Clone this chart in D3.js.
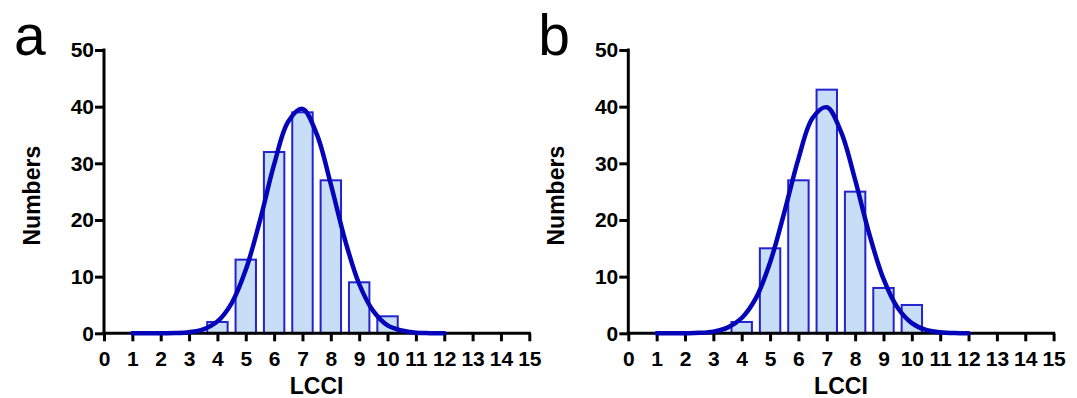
<!DOCTYPE html>
<html>
<head>
<meta charset="utf-8">
<script src="https://cdn.jsdelivr.net/npm/d3@7"></script>
<style>
  html, body { margin: 0; padding: 0; background: #fff; }
  svg { display: block; font-family: Arial, "Liberation Sans", sans-serif; }
</style>
</head>
<body>
<svg id="chart" width="1077" height="398"></svg>
<script>
// LCCI bins (bar centres) and counts
const bins = [1, 2, 3, 4, 5, 6, 7, 8, 9, 10, 11, 12];
const countsA = [0, 0, 0, 2, 13, 32, 39, 27, 9, 3, 0, 0];
const countsB = [0, 0, 0, 2, 15, 27, 43, 25, 8, 5, 0, 0];

// fitted curve at half steps
const curveX = [1, 1.5, 2, 2.5, 3, 3.5, 4, 4.5, 5, 5.5, 6, 6.5, 7, 7.5, 8, 8.5, 9, 9.5, 10, 10.5, 11, 11.5, 12];
const curveA = [0, 0, 0.01, 0.05, 0.2, 0.7, 2.1, 5.3, 11.2, 19.9, 29.8, 37.4, 39.6, 35.2, 26.3, 16.5, 8.7, 3.9, 1.4, 0.5, 0.1, 0.03, 0];
const curveB = [0, 0, 0.02, 0.08, 0.3, 1.0, 2.7, 6.2, 12.5, 21.3, 30.8, 38.0, 39.9, 35.6, 27.1, 17.5, 9.6, 4.5, 1.8, 0.6, 0.2, 0.04, 0];

const xTicks = d3.range(0, 16);
const yTicks = [0, 10, 20, 30, 40, 50];

const svg = d3.select('#chart');
const barFill = '#c8ddf6';
const barStroke = '#2323cf';
const lineColor = '#0404b8';
const halfBar = 0.36;
const fontFamily = 'Arial, "Liberation Sans", sans-serif';

const panels = [
    { letter: 'a', left: 104, counts: countsA, curve: curveA },
    { letter: 'b', left: 628.3, counts: countsB, curve: curveB }
];

panels.forEach(p => {
    const g = svg.append('g');
    const x = d3.scaleLinear().domain([0, 15]).range([p.left, p.left + 425.3]);
    const y = d3.scaleLinear().domain([0, 50]).range([333.3, 50]);

    // bars
    g.selectAll('.bar')
        .data(bins.map((b, i) => ({ b: b, v: p.counts[i] })).filter(d => d.v > 0))
        .join('rect')
        .attr('class', 'bar')
        .attr('x', d => x(d.b - halfBar))
        .attr('width', d => x(d.b + halfBar) - x(d.b - halfBar))
        .attr('y', d => y(d.v))
        .attr('height', d => y(0) - y(d.v))
        .attr('fill', barFill)
        .attr('stroke', barStroke)
        .attr('stroke-width', 2);

    // axes
    const xAxis = g.append('g')
        .attr('transform', `translate(0,${y(0)})`)
        .call(d3.axisBottom(x).tickValues(xTicks).tickSize(8).tickPadding(10).tickFormat(d3.format('d')));
    const yAxis = g.append('g')
        .attr('transform', `translate(${x(0)},0)`)
        .call(d3.axisLeft(y).tickValues(yTicks).tickSize(9).tickPadding(1).tickFormat(d3.format('d')));

    [xAxis, yAxis].forEach(ax => {
        ax.attr('font-size', 21).attr('font-family', fontFamily);
        ax.select('.domain').remove();
        ax.selectAll('.tick line').attr('stroke', '#000').attr('stroke-width', 3);
        ax.selectAll('.tick text')
            .attr('fill', '#000')
            .style('font-size', '21px')
            .style('font-weight', 'bold');
    });

    // plain axis lines without end caps
    g.append('line')
        .attr('x1', x(0) - 1.5).attr('x2', x(15) + 1.5)
        .attr('y1', y(0)).attr('y2', y(0))
        .attr('stroke', '#000').attr('stroke-width', 3);
    g.append('line')
        .attr('x1', x(0)).attr('x2', x(0))
        .attr('y1', y(0) + 1.5).attr('y2', y(50) - 1.5)
        .attr('stroke', '#000').attr('stroke-width', 3);

    // fitted curve
    const line = d3.line()
        .x((d, i) => x(curveX[i]))
        .y(d => y(d))
        .curve(d3.curveCatmullRom);
    g.append('path')
        .datum(p.curve)
        .attr('d', line)
        .attr('fill', 'none')
        .attr('stroke', lineColor)
        .attr('stroke-width', 4.5)
        .attr('stroke-linecap', 'round');

    // titles
    g.append('text')
        .attr('x', (x(0) + x(15)) / 2)
        .attr('y', 394)
        .attr('text-anchor', 'middle')
        .style('font-size', '23px')
        .style('font-weight', 'bold')
        .text('LCCI');
    g.append('text')
        .attr('transform', `translate(${x(0) - 64},${(y(0) + y(50)) / 2 + 4}) rotate(-90)`)
        .attr('text-anchor', 'middle')
        .style('font-size', '23px')
        .style('font-weight', 'bold')
        .text('Numbers');
    g.append('text')
        .attr('x', x(0) - 90)
        .attr('y', 55)
        .style('font-size', '57px')
        .text(p.letter);
});
</script>
</body>
</html>
